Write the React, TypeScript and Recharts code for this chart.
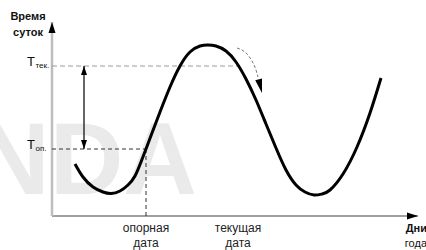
import React from 'react';
import { LineChart, Line, XAxis, YAxis, ReferenceLine } from 'recharts';

// curve: day of year -> time of day (abstract units)
const curveX = [23, 31, 41, 51, 59, 68, 76, 83, 89, 94, 100, 108, 118, 128, 138, 148, 156, 164, 174, 184, 194, 204, 214, 224, 234, 244, 253, 262, 270, 278, 291, 305, 318, 329];
const curveY = [52, 39, 29, 24, 22.5, 25, 31, 40, 54, 67, 83, 104, 129, 150, 164, 170, 171, 170, 165, 154, 137, 116, 92, 68, 46, 31, 24, 21, 22, 26, 42, 69, 103, 138];

// direction arrow alongside the curve
const dirX = [185, 193, 200, 204, 206];
const dirY = [168, 164, 155, 146, 139];
const dirTip = { x: 210, y: 123 };

const refDay = 94; // опорная дата
const curDay = 186; // текущая дата
const tOn = 67; // T оп.
const tCur = 150; // T тек.
const bracketX = 32;

const xTicks = [refDay, curDay];
const xTickLabels: Record<number, string[]> = { 94: ['опорная', 'дата'], 186: ['текущая', 'дата'] };
const yTicks = [tCur, tOn];
const yTickLabels: Record<number, string> = { 150: 'тек.', 67: 'оп.' };
const yTitle = ['Время', 'суток'];
const xTitle = ['Дни', 'года'];

const xDomain = [0, 366];
const yDomain = [0, 193];

const curveData = curveX.map((x, i) => ({ x, y: curveY[i] }));
const dirData = dirX.map((x, i) => ({ x, y: dirY[i] }));

const FONT = '"Liberation Sans", Arial, sans-serif';

type ArrowOpts = {
  stroke?: string;
  strokeWidth?: number;
  dash?: string;
  headStart?: boolean;
  headEnd?: boolean;
  headLen?: number;
  headW?: number;
  headColor?: string;
  noLine?: boolean;
};

function head(tx: number, ty: number, fx: number, fy: number, len: number, w: number, color: string, key: string) {
  const dx = tx - fx;
  const dy = ty - fy;
  const d = Math.sqrt(dx * dx + dy * dy) || 1;
  const ux = dx / d;
  const uy = dy / d;
  const bx = tx - ux * len;
  const by = ty - uy * len;
  const nx = -uy * (w / 2);
  const ny = ux * (w / 2);
  const pts = `${tx},${ty} ${bx + nx},${by + ny} ${bx - nx},${by - ny}`;
  return <polygon key={key} points={pts} fill={color} />;
}

function arrowShape(o: ArrowOpts) {
  return (p: any) => {
    const { x1, y1, x2, y2 } = p;
    const len = o.headLen ?? 10;
    const w = o.headW ?? 7;
    const hc = o.headColor ?? '#000';
    return (
      <g>
        {!o.noLine && (
          <line
            x1={x1}
            y1={y1}
            x2={x2}
            y2={y2}
            stroke={o.stroke ?? '#000'}
            strokeWidth={o.strokeWidth ?? 1}
            strokeDasharray={o.dash}
          />
        )}
        {o.headEnd && head(x2, y2, x1, y1, len, w, hc, 'e')}
        {o.headStart && head(x1, y1, x2, y2, len, w, hc, 's')}
      </g>
    );
  };
}

const XTick = (props: any) => {
  const { x, y, payload } = props;
  const lines = xTickLabels[payload.value] || [];
  return (
    <text x={x} y={y} textAnchor="middle" fontFamily={FONT} fontSize={12} fill="#222">
      <tspan x={x} dy={16}>{lines[0]}</tspan>
      <tspan x={x} dy={15}>{lines[1]}</tspan>
    </text>
  );
};

const YTick = (props: any) => {
  const { x, y, payload } = props;
  const sub = yTickLabels[payload.value] || '';
  return (
    <g>
      <text x={x - 25} y={y} textAnchor="start" fontFamily={FONT} fontSize={13} fill="#111">T</text>
      <text x={x - 16.5} y={y + 2} textAnchor="start" fontFamily={FONT} fontSize={8} fill="#111">{sub}</text>
    </g>
  );
};

const YTitle = (props: any) => {
  const vb = props.viewBox || { x: 0, y: 23, width: 52 };
  const cx = vb.x + 28;
  return (
    <text x={cx} y={vb.y - 3} textAnchor="middle" fontFamily={FONT} fontSize={11} fontWeight="bold" fill="#111">
      <tspan x={cx}>{yTitle[0]}</tspan>
      <tspan x={cx} dy={16}>{yTitle[1]}</tspan>
    </text>
  );
};

const XTitle = (props: any) => {
  const vb = props.viewBox || { x: 52, y: 216, width: 366 };
  const rx = vb.x + vb.width + 9;
  return (
    <text x={rx} y={vb.y} textAnchor="end" fontFamily={FONT} fontSize={11} fill="#111">
      <tspan x={rx} dy={16} fontWeight="bold">{xTitle[0]}</tspan>
      <tspan x={rx} dy={15}>{xTitle[1]}</tspan>
    </text>
  );
};

export default function App() {
  return (
    <div style={{ position: 'absolute', left: 0, top: 0, width: 426, height: 250, background: '#fff', overflow: 'hidden' }}>
      <svg width={426} height={250} style={{ position: 'absolute', left: 0, top: 0 }}>
        <text x={-24} y={194} fontFamily={FONT} fontSize={102} fontWeight="bold" fill="#eaeaea">NDA</text>
      </svg>
      <div style={{ position: 'absolute', left: 0, top: 0 }}>
        <LineChart width={426} height={250} margin={{ top: 23, right: 8, left: 0, bottom: 4 }}>
          <XAxis
            type="number"
            dataKey="x"
            domain={xDomain}
            allowDataOverflow
            ticks={xTicks}
            interval={0}
            axisLine={false}
            tickLine={false}
            tickSize={0}
            tickMargin={0}
            height={30}
            tick={<XTick />}
            label={{ content: <XTitle /> } as any}
          />
          <YAxis
            type="number"
            dataKey="y"
            domain={yDomain}
            allowDataOverflow
            ticks={yTicks}
            interval={0}
            axisLine={false}
            tickLine={false}
            tickSize={0}
            tickMargin={0}
            width={52}
            tick={<YTick />}
            label={{ content: <YTitle /> } as any}
          />
          {/* axes with arrows */}
          <ReferenceLine
            ifOverflow="visible"
            segment={[{ x: 0, y: 0 }, { x: xDomain[1], y: 0 }]}
            shape={arrowShape({ stroke: '#a0a0a0', strokeWidth: 2, headEnd: true, headLen: 11, headW: 7 })}
          />
          <ReferenceLine
            ifOverflow="visible"
            segment={[{ x: 0, y: 0 }, { x: 0, y: 194 }]}
            shape={arrowShape({ stroke: '#bdbdbd', strokeWidth: 2.5, headEnd: true, headLen: 11, headW: 7 })}
          />
          {/* T тек. dashed */}
          <ReferenceLine
            ifOverflow="visible"
            segment={[{ x: 0, y: tCur }, { x: curDay, y: tCur }]}
            shape={arrowShape({ stroke: '#9a9a9a', strokeWidth: 1, dash: '5 3' })}
          />
          {/* T оп. dashed */}
          <ReferenceLine
            ifOverflow="visible"
            segment={[{ x: 0, y: tOn }, { x: refDay, y: tOn }]}
            shape={arrowShape({ stroke: '#333', strokeWidth: 1, dash: '4 3' })}
          />
          <ReferenceLine
            ifOverflow="visible"
            segment={[{ x: refDay, y: tOn }, { x: refDay, y: 0 }]}
            shape={arrowShape({ stroke: '#333', strokeWidth: 1, dash: '4 3' })}
          />
          {/* double arrow */}
          <ReferenceLine
            ifOverflow="visible"
            segment={[{ x: bracketX, y: tCur }, { x: bracketX, y: tOn }]}
            shape={arrowShape({ stroke: '#000', strokeWidth: 1.2, headStart: true, headEnd: true, headLen: 9, headW: 6 })}
          />
          <Line
            data={curveData}
            dataKey="y"
            type="natural"
            stroke="#000"
            strokeWidth={3}
            dot={false}
            activeDot={false}
            isAnimationActive={false}
          />
          <Line
            data={dirData}
            dataKey="y"
            type="natural"
            stroke="#777"
            strokeWidth={1}
            strokeDasharray="3 2"
            dot={false}
            activeDot={false}
            isAnimationActive={false}
          />
          <ReferenceLine
            ifOverflow="visible"
            segment={[{ x: dirX[dirX.length - 1], y: dirY[dirY.length - 1] }, dirTip]}
            shape={arrowShape({ noLine: true, headEnd: true, headLen: 14, headW: 7 })}
          />
        </LineChart>
      </div>
    </div>
  );
}
